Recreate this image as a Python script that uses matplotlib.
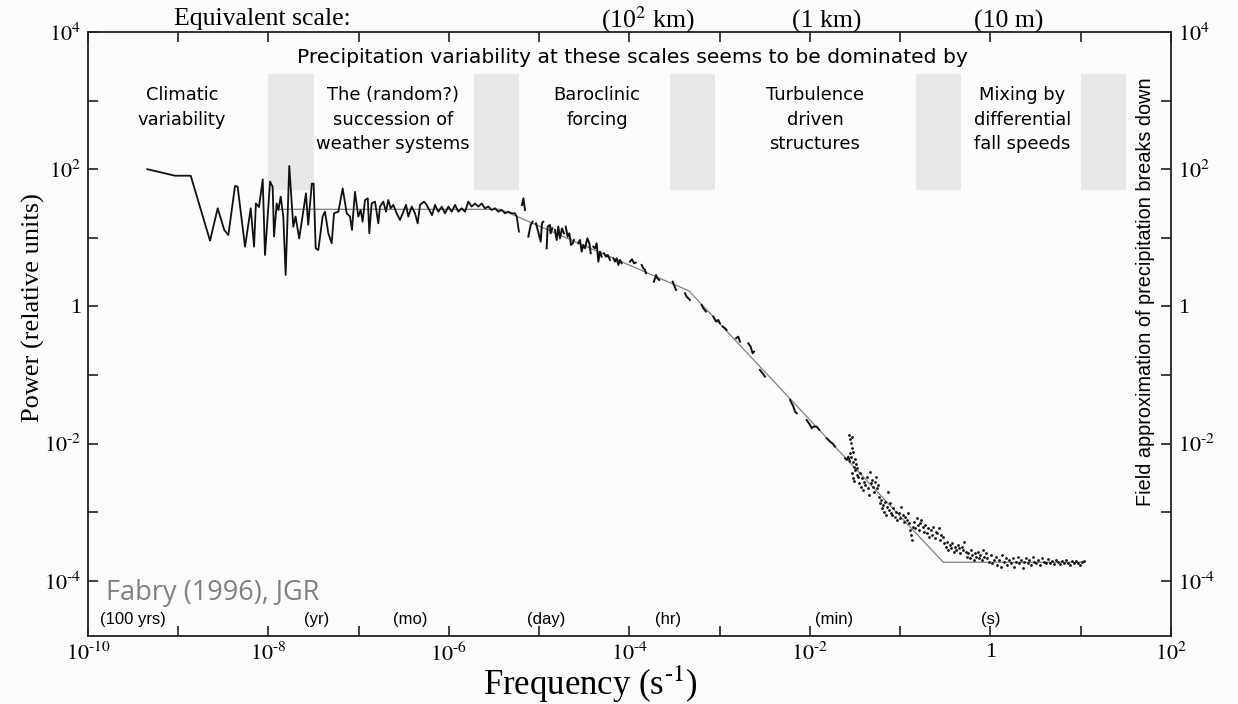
import numpy as np
import matplotlib
matplotlib.use("Agg")
import matplotlib.pyplot as plt
from matplotlib.ticker import FixedLocator, FixedFormatter, NullLocator

plt.rcParams['mathtext.fontset'] = 'stix'
plt.rcParams['font.family'] = ['Liberation Serif', 'DejaVu Serif']

# ---------------- data (log10 values) ----------------
# long-record spectrum (solid line)
specA_lf = [-9.343, -9.036, -8.862, -8.648, -8.563, -8.49, -8.445, -8.371, -8.342, -8.26,
            -8.197, -8.16, -8.14, -8.105, -8.064, -8.039, -8.013, -7.983, -7.954, -7.939,
            -7.909, -7.89, -7.865, -7.836, -7.81, -7.77, -7.725, -7.70, -7.66, -7.585,
            -7.56, -7.52, -7.50, -7.477, -7.448, -7.40, -7.374, -7.337, -7.30, -7.274,
            -7.226, -7.178, -7.133, -7.097, -7.075, -7.042, -7.005, -6.979, -6.957, -6.931,
            -6.90, -6.883, -6.857, -6.82, -6.783, -6.765, -6.728, -6.698, -6.673, -6.646,
            -6.617, -6.58, -6.543, -6.506, -6.476, -6.451, -6.413, -6.377, -6.347, -6.321,
            -6.277, -6.247, -6.218, -6.188, -6.155, -6.118, -6.08, -6.044, -6.007, -5.97,
            -5.933, -5.897, -5.86, -5.823, -5.786, -5.749, -5.712, -5.675, -5.638, -5.601,
            -5.565, -5.527, -5.49, -5.454, -5.416, -5.38, -5.343, -5.305, -5.269, -5.25,
            -5.225]
specA_lP = [2.0, 1.905, 1.905, 0.958, 1.43, 1.114, 1.04, 1.755, 1.745, 0.87,
            1.43, 0.87, 1.50, 1.45, 1.853, 0.749, 1.235, 1.82, 1.745, 1.02,
            1.50, 1.405, 1.60, 1.31, 0.458, 2.047, 1.16, 1.31, 0.99, 1.65,
            1.19, 1.79, 1.79, 0.847, 0.822, 1.31, 1.38, 1.066, 0.92, 1.357,
            1.38, 1.72, 1.357, 1.31, 1.114, 1.67, 1.31, 1.405, 1.235, 1.55,
            1.575, 1.066, 1.50, 1.527, 1.21, 1.455, 1.527, 1.38, 1.55, 1.43,
            1.48, 1.357, 1.26, 1.38, 1.48, 1.31, 1.455, 1.357, 1.21, 1.48,
            1.527, 1.48, 1.405, 1.33, 1.48, 1.38, 1.455, 1.357, 1.455, 1.38,
            1.48, 1.38, 1.43, 1.38, 1.527, 1.455, 1.50, 1.455, 1.50, 1.43,
            1.455, 1.405, 1.43, 1.38, 1.405, 1.357, 1.38, 1.357, 1.357, 1.31,
            1.09]

# short-record spectra (short fragments)
frag_lf = [
    [-5.191, -5.176, -5.158],
    [-5.121, -5.095, -5.073],
    [-5.036, -5.007, -4.984, -4.970, -4.955],
    [-4.918, -4.907, -4.881, -4.874, -4.855],
    [-4.826, -4.807, -4.789, -4.770, -4.748, -4.726],
    [-4.707, -4.685, -4.667, -4.648, -4.630, -4.615],
    [-4.567, -4.549, -4.530, -4.512, -4.493, -4.467, -4.445, -4.430],
    [-4.401, -4.382, -4.364, -4.345, -4.327, -4.308],
    [-4.283, -4.260, -4.242, -4.216],
    [-4.179, -4.161, -4.142, -4.124, -4.105, -4.087],
    [-3.995, -3.972, -3.950, -3.932],
    [-3.865, -3.847, -3.828, -3.817],
    [-3.729, -3.706, -3.692, -3.670],
    [-3.522, -3.507, -3.485],
    [-3.385, -3.367, -3.348, -3.330],
    [-3.201, -3.182, -3.153],
    [-3.072, -3.042, -3.016, -2.998],
    [-2.968, -2.942, -2.924],
    [-2.820, -2.795, -2.776],
    [-2.684, -2.658, -2.636, -2.621],
    [-2.555, -2.525, -2.499],
    [-2.221, -2.184, -2.166, -2.147],
    [-2.037, -1.999, -1.981, -1.963, -1.926, -1.896],
    [-1.815, -1.778, -1.748, -1.723],
    [-1.612, -1.594, -1.575, -1.557],
]
frag_lP = [
    [1.478, 1.576, 1.405],
    [1.017, 1.187, 1.235],
    [1.211, 1.065, 0.944, 1.211, 1.235],
    [0.847, 1.163, 1.187, 1.065, 1.138],
    [1.114, 0.968, 1.163, 0.992, 1.138, 1.065],
    [1.163, 1.017, 1.065, 0.895, 0.920, 0.968],
    [0.920, 0.968, 0.798, 0.895, 0.847, 0.992, 0.920, 0.774],
    [0.871, 0.847, 0.920, 0.652, 0.798, 0.725],
    [0.774, 0.725, 0.749, 0.677],
    [0.701, 0.652, 0.701, 0.604, 0.677, 0.628],
    [0.652, 0.687, 0.628, 0.638],
    [0.604, 0.555, 0.531, 0.483],
    [0.361, 0.458, 0.410, 0.385],
    [0.361, 0.312, 0.239],
    [0.191, 0.142, 0.118, 0.094],
    [0.021, -0.028, -0.076],
    [-0.149, -0.222, -0.198, -0.246],
    [-0.295, -0.319, -0.344],
    [-0.465, -0.441, -0.514],
    [-0.538, -0.587, -0.684, -0.659],
    [-0.927, -0.975, -1.024],
    [-1.364, -1.461, -1.534, -1.558],
    [-1.656, -1.728, -1.777, -1.753, -1.753, -1.801],
    [-1.923, -1.971, -2.0, -2.044],
    [-2.215, -2.239, -2.19, -2.263],
]

# high-frequency spectrum (dots)
dot_lf = [-1.564, -1.557, -1.549, -1.538, -1.531, -1.560, -1.546, -1.527, -1.520, -1.512,
          -1.505, -1.498, -1.490, -1.483, -1.523, -1.509, -1.475, -1.534,
          -1.464, -1.453, -1.442, -1.431, -1.420, -1.409, -1.398, -1.387, -1.372, -1.361,
          -1.350, -1.335, -1.328, -1.317, -1.306, -1.294, -1.283, -1.272, -1.261, -1.250,
          -1.239, -1.228, -1.217, -1.206, -1.195, -1.184, -1.173, -1.161, -1.150, -1.139,
          -1.128, -1.117, -1.106,
          -1.091, -1.077, -1.062, -1.047, -1.032, -1.017, -1.003, -0.988, -0.973, -0.958,
          -0.944, -0.929, -0.914,
          -0.899, -0.888, -0.877, -0.866, -0.855, -0.844, -0.833, -0.818, -0.807, -0.792,
          -0.781, -0.770,
          -0.752, -0.737, -0.722, -0.707, -0.692, -0.678, -0.663, -0.648, -0.633, -0.619,
          -0.604, -0.589, -0.574, -0.560, -0.545, -0.530,
          -0.511, -0.497, -0.482, -0.467, -0.452, -0.438, -0.423, -0.408, -0.393, -0.379,
          -0.364, -0.349, -0.334, -0.319, -0.305, -0.290,
          -0.275, -0.260, -0.246, -0.231, -0.216, -0.201, -0.187, -0.172, -0.157, -0.142,
          -0.127, -0.113, -0.098, -0.083, -0.068, -0.054,
          -0.035, -0.017, 0.002, 0.020, 0.039, 0.057, 0.076, 0.094, 0.113, 0.131,
          0.150, 0.168, 0.186, 0.205,
          0.227, 0.246, 0.264, 0.283, 0.301, 0.319, 0.338, 0.356, 0.375, 0.393,
          0.412, 0.430, 0.449, 0.467, 0.486, 0.504,
          0.526, 0.548, 0.571, 0.593, 0.615, 0.637, 0.659, 0.681, 0.704, 0.726,
          0.748, 0.770, 0.792, 0.814, 0.836, 0.859, 0.881, 0.903, 0.925, 0.947,
          0.969, 0.992, 1.014, 1.036]
dot_lP = [-1.875, -1.938, -1.996, -1.909, -2.069, -2.142, -2.200, -2.263, -2.118, -2.336,
          -2.229, -2.385, -2.297, -2.458, -2.506, -2.540, -2.361, -2.433,
          -2.482, -2.579, -2.433, -2.628, -2.506, -2.676, -2.555, -2.604, -2.482, -2.652,
          -2.749, -2.409, -2.579, -2.531, -2.628, -2.701, -2.555, -2.482, -2.652, -2.604,
          -2.774, -2.871, -2.822, -2.944, -2.895, -2.992, -2.846, -3.041, -2.919, -2.701,
          -2.968, -2.871, -3.017,
          -3.041, -2.944, -3.065, -2.992, -3.114, -3.017, -3.089, -2.919, -3.041, -3.138,
          -3.065, -3.114, -3.017,
          -3.162, -3.259, -3.332, -3.405, -3.211, -3.138, -3.235, -3.089, -3.187, -3.259,
          -3.162, -3.114,
          -3.211, -3.284, -3.187, -3.308, -3.235, -3.357, -3.259, -3.332, -3.211, -3.381,
          -3.284, -3.308, -3.235, -3.405, -3.332, -3.357,
          -3.454, -3.502, -3.430, -3.551, -3.478, -3.527, -3.454, -3.575, -3.502, -3.551,
          -3.478, -3.527, -3.600, -3.502, -3.551, -3.430,
          -3.575, -3.648, -3.600, -3.672, -3.551, -3.624, -3.697, -3.600, -3.648, -3.575,
          -3.672, -3.624, -3.697, -3.551, -3.648, -3.600,
          -3.672, -3.721, -3.624, -3.745, -3.697, -3.648, -3.770, -3.697, -3.794, -3.624,
          -3.721, -3.672, -3.770, -3.697,
          -3.745, -3.672, -3.794, -3.721, -3.648, -3.745, -3.697, -3.818, -3.721, -3.672,
          -3.745, -3.697, -3.770, -3.648, -3.721, -3.745,
          -3.697, -3.770, -3.672, -3.721, -3.745, -3.687, -3.736, -3.706, -3.755, -3.697,
          -3.726, -3.755, -3.716, -3.745, -3.697, -3.736, -3.765, -3.716, -3.745, -3.706,
          -3.736, -3.775, -3.726, -3.716]

# piecewise fit (thin grey line)
fit_lf = [-7.88, -5.43, -3.34, -0.523, 1.03]
fit_lP = [1.415, 1.415, 0.225, -3.73, -3.73]

# grey transition bands
band_lo = [-8.0, -5.72, -3.55, -0.83, 1.0]
band_hi = [-7.5, -5.22, -3.05, -0.33, 1.5]
band_bottom, band_top = 1.69, 3.39

# regime labels
regime_labels = ["Climatic\nvariability",
                 "The (random?)\nsuccession of\nweather systems",
                 "Baroclinic\nforcing",
                 "Turbulence\ndriven\nstructures",
                 "Mixing by\ndifferential\nfall speeds"]
regime_lf = [-8.96, -6.62, -4.36, -1.945, 0.35]

# time-scale labels (bottom) and equivalent scale labels (top)
time_labels = ["(100 yrs)", "(yr)", "(mo)", "(day)", "(hr)", "(min)", "(s)"]
time_lf = [-9.50, -7.47, -6.43, -4.92, -3.57, -1.73, 0.0]
scale_labels = [r"(10$^2$ km)", "(1 km)", "(10 m)"]
scale_lf = [-3.80, -1.81, 0.20]

xtick_exp = list(range(-10, 3))
ytick_exp = list(range(-4, 5))

# ---------------- figure ----------------
fig = plt.figure(figsize=(12.38, 7.04), dpi=100)
fig.patch.set_facecolor('#fcfbfb')
ax = fig.add_axes([88/1238, 1-636/704, (1171-88)/1238, (636-32)/704])
ax.patch.set_alpha(0.0)
ax.set_xscale('log')
ax.set_yscale('log')
ax.set_xlim(1e-10, 1e2)
ax.set_ylim(10**-4.805, 1e4)

for lo, hi in zip(band_lo, band_hi):
    ax.fill_between([10**lo, 10**hi], 10**band_bottom, 10**band_top,
                    color='#e8e8e8', lw=0, zorder=1)

ax.plot(10**np.array(fit_lf), 10**np.array(fit_lP), color='#808080', lw=0.9, zorder=2)
ax.plot(10**np.array(specA_lf), 10**np.array(specA_lP), color='#111111', lw=1.3, zorder=3)
for fx, fy in zip(frag_lf, frag_lP):
    ax.plot(10**np.array(fx), 10**np.array(fy), color='#111111', lw=1.4, zorder=3)
ax.plot(10**np.array(dot_lf), 10**np.array(dot_lP), ls='none', marker='o', ms=2.0,
        mfc='#111111', mec='none', zorder=3)

# ticks
HY = '\u2010'
def fmt(e):
    if e == 0:
        return '1'
    if e < 0:
        return r'$10^{%s%d}$' % (HY, -e)
    return r'$10^{%d}$' % e

ax.xaxis.set_major_locator(FixedLocator([10.0**e for e in xtick_exp]))
ax.xaxis.set_major_formatter(FixedFormatter([fmt(e) if e % 2 == 0 else '' for e in xtick_exp]))
ax.yaxis.set_major_locator(FixedLocator([10.0**e for e in ytick_exp]))
ax.yaxis.set_major_formatter(FixedFormatter([fmt(e) if e % 2 == 0 else '' for e in ytick_exp]))
ax.xaxis.set_minor_locator(NullLocator())
ax.yaxis.set_minor_locator(NullLocator())
ax.tick_params(which='major', direction='in', length=7, width=1.2, color='#222222',
               top=True, right=True, labeltop=False, labelright=True,
               labelsize=16, pad=5)
for s in ax.spines.values():
    s.set_linewidth(1.3)
    s.set_color('#222222')

sans = ['Liberation Sans', 'DejaVu Sans']
wide = ['DejaVu Sans']

# axis labels
ax.text(0.4635, -0.098, r'Frequency (s$^{%s1}$)' % HY, transform=ax.transAxes,
        ha='center', va='baseline', fontsize=25)
ax.text(-0.050, 0.543, 'Power (relative units)', transform=ax.transAxes,
        ha='center', va='center', rotation=90, fontsize=19)

# top texts
ax.text(0.1607, 1.0115, 'Equivalent scale:', transform=ax.transAxes,
        ha='center', va='baseline', fontsize=18.5)
for lab, lf in zip(scale_labels, scale_lf):
    ax.text(10**lf, 10**4.07, lab, ha='center', va='baseline', fontsize=18.5)

ax.text(0.5023, 0.9487, 'Precipitation variability at these scales seems to be dominated by',
        transform=ax.transAxes, ha='center', va='baseline', fontsize=14.6, family=wide)
for lab, lf in zip(regime_labels, regime_lf):
    ax.text(10**lf, 10**3.213, lab, ha='center', va='top', fontsize=12.9,
            family=wide, linespacing=1.48)

ax.text(0.976, 0.5695, 'Field approximation of precipitation breaks down',
        transform=ax.transAxes, ha='center', va='center', rotation=90,
        fontsize=14.3, family=sans)

for lab, lf in zip(time_labels, time_lf):
    ax.text(10**lf, 10**-4.57, lab, ha='center', va='center', fontsize=12, family=sans)

ax.text(0.0166, 0.0596, 'Fabry (1996), JGR', transform=ax.transAxes,
        ha='left', va='baseline', fontsize=19.5, color='#808080',
        family=['Open Sans', 'DejaVu Sans'])

fig.savefig('out.png', dpi=100, facecolor=fig.get_facecolor())
